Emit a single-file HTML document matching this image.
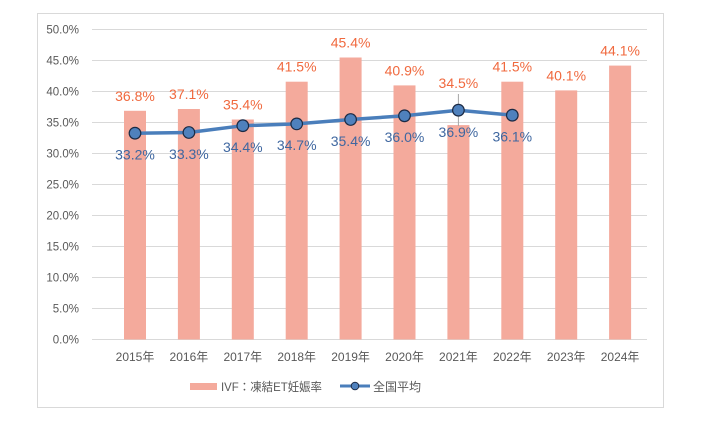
<!DOCTYPE html>
<html><head><meta charset="utf-8"><style>
html,body{margin:0;padding:0;background:#fff;}
svg{display:block;}
text{font-family:"Liberation Sans","Noto Sans CJK JP",sans-serif;}
</style></head><body>
<svg width="707" height="423" viewBox="0 0 707 423" xmlns="http://www.w3.org/2000/svg">
<rect x="37.5" y="13.5" width="626" height="394" fill="#fff" stroke="#D9D9D9" stroke-width="1"/>
<g stroke="#D9D9D9" stroke-width="1">
<line x1="92" y1="29.5" x2="647" y2="29.5"/>
<line x1="92" y1="60.5" x2="647" y2="60.5"/>
<line x1="92" y1="91.5" x2="647" y2="91.5"/>
<line x1="92" y1="122.5" x2="647" y2="122.5"/>
<line x1="92" y1="153.5" x2="647" y2="153.5"/>
<line x1="92" y1="184.5" x2="647" y2="184.5"/>
<line x1="92" y1="215.5" x2="647" y2="215.5"/>
<line x1="92" y1="246.5" x2="647" y2="246.5"/>
<line x1="92" y1="277.5" x2="647" y2="277.5"/>
<line x1="92" y1="308.5" x2="647" y2="308.5"/>
<line x1="92" y1="339.5" x2="647" y2="339.5"/>
</g>
<g font-size="11.5" fill="#595959" text-anchor="end">
<text x="79" y="33.5">50.0%</text>
<text x="79" y="64.5">45.0%</text>
<text x="79" y="95.5">40.0%</text>
<text x="79" y="126.5">35.0%</text>
<text x="79" y="157.5">30.0%</text>
<text x="79" y="188.5">25.0%</text>
<text x="79" y="219.5">20.0%</text>
<text x="79" y="250.5">15.0%</text>
<text x="79" y="281.5">10.0%</text>
<text x="79" y="312.5">5.0%</text>
<text x="79" y="343.5">0.0%</text>
</g>
<g fill="#F4AA9C">
<rect x="124" y="110.8" width="22" height="228.7"/>
<rect x="177.9" y="109" width="22" height="230.5"/>
<rect x="231.8" y="119.5" width="22" height="220"/>
<rect x="285.7" y="81.7" width="22" height="257.8"/>
<rect x="339.6" y="57.5" width="22" height="282"/>
<rect x="393.5" y="85.4" width="22" height="254.1"/>
<rect x="447.4" y="125.1" width="22" height="214.4"/>
<rect x="501.3" y="81.7" width="22" height="257.8"/>
<rect x="555.2" y="90.4" width="22" height="249.1"/>
<rect x="609.1" y="65.6" width="22" height="273.9"/>
</g>
<line x1="458.4" y1="94" x2="458.4" y2="126" stroke="#A6A6A6" stroke-width="1"/>
<g font-size="14" fill="#F0693E" text-anchor="middle">
<text x="135" y="100.8">36.8%</text>
<text x="188.9" y="99">37.1%</text>
<text x="242.8" y="109.5">35.4%</text>
<text x="296.7" y="71.7">41.5%</text>
<text x="350.6" y="47.5">45.4%</text>
<text x="404.5" y="75.4">40.9%</text>
<text x="458.4" y="88">34.5%</text>
<text x="512.3" y="71.7">41.5%</text>
<text x="566.2" y="80.4">40.1%</text>
<text x="620.1" y="55.6">44.1%</text>
</g>
<polyline points="135,133.2 188.9,132.5 242.8,125.7 296.7,123.9 350.6,119.5 404.5,115.8 458.4,110.2 512.3,115.2" fill="none" stroke="#4A7EBB" stroke-width="3.5" stroke-linejoin="round"/>
<g fill="#4F81BD" stroke="#1C2B45" stroke-width="1.2">
<circle cx="135" cy="133.2" r="5.8"/>
<circle cx="188.9" cy="132.5" r="5.8"/>
<circle cx="242.8" cy="125.7" r="5.8"/>
<circle cx="296.7" cy="123.9" r="5.8"/>
<circle cx="350.6" cy="119.5" r="5.8"/>
<circle cx="404.5" cy="115.8" r="5.8"/>
<circle cx="458.4" cy="110.2" r="5.8"/>
<circle cx="512.3" cy="115.2" r="5.8"/>
</g>
<g font-size="14" fill="#3F67A0" text-anchor="middle">
<text x="135" y="159.5">33.2%</text>
<text x="188.9" y="158.8">33.3%</text>
<text x="242.8" y="152">34.4%</text>
<text x="296.7" y="150">34.7%</text>
<text x="350.6" y="146">35.4%</text>
<text x="404.5" y="142">36.0%</text>
<text x="458.4" y="137">36.9%</text>
<text x="512.3" y="141.5">36.1%</text>
</g>
<g font-size="12" fill="#595959" text-anchor="middle">
<text x="135" y="361">2015年</text>
<text x="188.9" y="361">2016年</text>
<text x="242.8" y="361">2017年</text>
<text x="296.7" y="361">2018年</text>
<text x="350.6" y="361">2019年</text>
<text x="404.5" y="361">2020年</text>
<text x="458.4" y="361">2021年</text>
<text x="512.3" y="361">2022年</text>
<text x="566.2" y="361">2023年</text>
<text x="620.1" y="361">2024年</text>
</g>
<rect x="190" y="383" width="27" height="7" fill="#F4AA9C"/>
<text x="221" y="391" font-size="12" fill="#595959" textLength="101" lengthAdjust="spacingAndGlyphs">IVF：凍結ET妊娠率</text>
<line x1="340" y1="386" x2="370" y2="386" stroke="#4A7EBB" stroke-width="3"/>
<circle cx="355" cy="386" r="3.8" fill="#4F81BD" stroke="#1C2B45" stroke-width="1"/>
<text x="373" y="391" font-size="12" fill="#595959">全国平均</text>
</svg>
</body></html>
